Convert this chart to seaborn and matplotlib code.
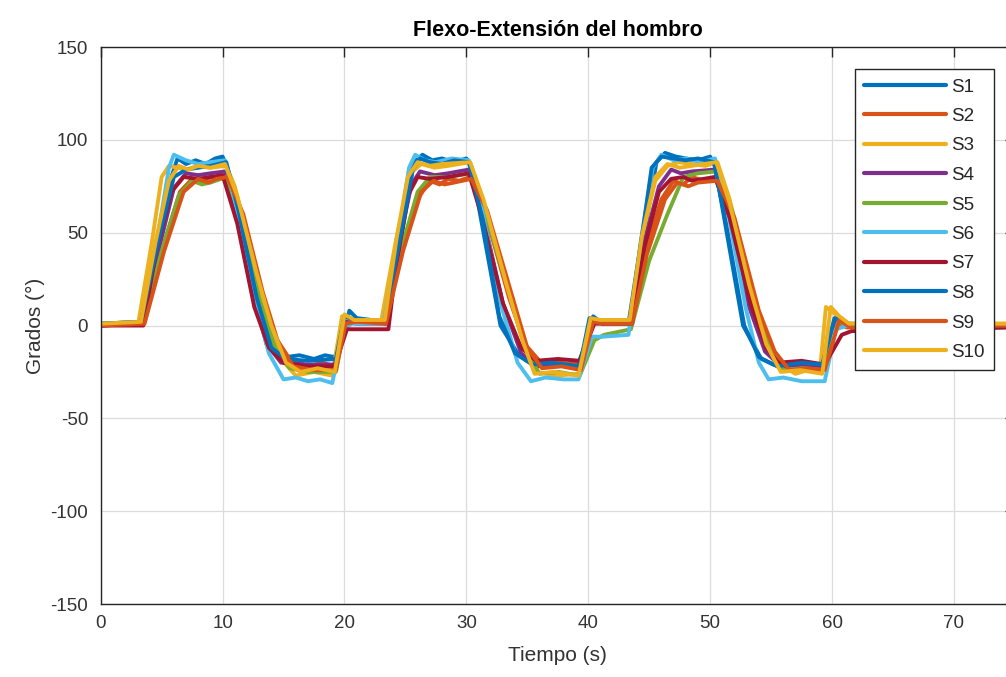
import matplotlib
matplotlib.use("Agg")
import matplotlib.pyplot as plt
import seaborn as sns
import pandas as pd

# Shoulder flexion-extension angle for ten subjects (time in s, angle in degrees)
t_s1 = [0, 1.5, 3.4, 4.6, 5.8, 6.3, 7.0, 7.8, 8.6, 9.4, 10.0, 10.4, 12.6, 14.0, 15.2, 16.3, 17.5, 18.4, 19.2,
        19.9, 20.4, 21.0, 22.2, 23.3, 24.6, 25.7, 26.4, 27.2, 28.0, 29.0, 30.0, 30.4, 32.8, 34.3, 35.5, 37.0,
        38.2, 39.2, 39.9, 40.4, 41.2, 42.3, 43.4, 44.6, 45.6, 46.3, 47.2, 48.0, 49.0, 50.0, 50.4, 52.7, 54.2,
        55.2, 56.0, 57.5, 59.0, 59.6, 60.4, 61.3, 63.0, 75]
v_s1 = [0, 1, 2, 40, 80, 90, 87, 89, 87, 90, 91, 85, 20, -12, -17, -16, -18, -16, -17,
        -5, 8, 4, 3, 2, 45, 88, 92, 89, 90, 88, 90, 86, 0, -16, -20, -19,
        -21, -20, -8, 5, 1, 2, 2, 50, 88, 93, 91, 90, 89, 91, 86, 0, -18,
        -21, -22, -20, -22, -10, 5, 1, 0, 0]

t_s2 = [0, 3.5, 5.0, 6.5, 7.5, 8.3, 9.0, 9.8, 10.3, 11.5, 13.0, 14.2, 15.5, 17.0, 18.2, 19.2, 20.0, 20.6, 23.3,
        24.5, 26.0, 27.0, 27.8, 28.5, 29.4, 30.3, 31.5, 33.5, 34.8, 36.0, 37.6, 39.3, 40.2, 41.0, 43.5,
        44.6, 46.0, 47.0, 47.8, 48.5, 49.5, 50.4, 51.8, 53.6, 55.0, 56.2, 57.8, 59.2, 60.3, 61.2, 75]
v_s2 = [0, 1, 40, 72, 79, 77, 80, 79, 81, 60, 20, -5, -18, -22, -20, -22, 0, 3, 1,
        35, 68, 78, 76, 79, 78, 80, 62, 15, -10, -19, -20, -21, 2, 2, 1,
        38, 68, 78, 76, 80, 78, 80, 55, 10, -12, -22, -21, -23, 2, -1, 0]

t_s3 = [0, 3.1, 4.2, 5.0, 5.6, 7.0, 8.0, 9.0, 10.3, 11.0, 12.5, 13.6, 14.8, 16.0, 17.5, 19.0, 19.8, 20.6, 23.0,
        24.2, 25.4, 26.3, 27.4, 28.5, 29.4, 30.3, 31.5, 33.5, 34.8, 35.8, 37.4, 39.2, 40.2, 41.0, 43.4,
        44.5, 45.5, 46.5, 47.4, 48.5, 49.6, 50.6, 51.6, 53.0, 54.3, 55.5, 57.0, 58.0, 59.0, 59.5, 60.3, 61.2, 75]
v_s3 = [1, 2, 45, 80, 86, 84, 86, 85, 86, 75, 35, 5, -18, -27, -25, -27, 5, 3, 2,
        45, 82, 87, 85, 86, 87, 88, 65, 20, -10, -25, -27, -26, 3, 3, 2,
        50, 78, 86, 88, 87, 86, 88, 68, 30, 0, -20, -26, -24, -25, 10, 6, 1, 1]

t_s4 = [0, 3.4, 4.8, 6.0, 7.0, 8.0, 9.0, 10.2, 11.3, 12.5, 13.6, 14.8, 17.0, 19.2, 20.1, 21.0, 23.4,
        24.5, 25.5, 26.2, 27.4, 28.5, 30.2, 31.4, 33.0, 34.5, 35.8, 37.5, 39.2, 40.3, 41.2, 43.5,
        44.5, 45.8, 46.8, 47.6, 48.5, 50.4, 51.5, 53.2, 54.5, 55.8, 57.5, 59.3, 60.4, 61.3, 75]
v_s4 = [0, 1, 42, 74, 82, 81, 82, 83, 58, 18, -10, -20, -21, -21, 2, 1, 1,
        45, 76, 83, 81, 82, 84, 58, 12, -15, -22, -21, -22, 3, 1, 1,
        42, 75, 84, 82, 83, 84, 62, 10, -14, -22, -21, -23, 3, 0, 0]

t_s5 = [0, 3.5, 5.0, 6.4, 7.5, 8.3, 9.0, 10.3, 11.5, 13.0, 14.3, 15.5, 17.0, 19.3, 20.0, 21.0, 23.3,
        24.6, 26.0, 27.0, 28.5, 30.3, 31.5, 33.5, 34.8, 36.0, 37.6, 39.3, 40.5, 41.3, 43.5,
        45.0, 46.5, 47.8, 49.0, 50.5, 51.8, 53.6, 54.8, 56.0, 57.6, 59.3, 60.5, 61.4, 75]
v_s5 = [1, 2, 40, 70, 78, 76, 77, 80, 58, 15, -12, -23, -25, -25, 0, 2, 2,
        40, 72, 80, 80, 82, 62, 18, -12, -26, -25, -27, -8, -5, -2,
        35, 60, 80, 82, 83, 62, 15, -12, -24, -23, -24, 2, 0, 0]

t_s6 = [0, 3.4, 4.6, 5.6, 6.0, 7.0, 8.0, 9.0, 10.2, 11.2, 12.6, 13.8, 15.0, 16.0, 17.0, 18.0, 19.0, 19.9, 20.6, 23.2,
        24.2, 25.3, 25.8, 26.6, 27.5, 28.8, 30.2, 31.3, 32.9, 34.2, 35.3, 36.5, 38.0, 39.2, 40.3, 41.2, 43.3,
        44.3, 45.3, 46.0, 47.0, 48.0, 49.2, 50.4, 51.5, 52.9, 54.0, 54.8, 56.0, 57.5, 59.4, 60.3, 61.3, 75]
v_s6 = [1, 2, 45, 85, 92, 89, 87, 88, 89, 62, 15, -15, -29, -28, -30, -29, -31, -2, 1, 1,
        40, 85, 92, 89, 88, 90, 89, 62, 10, -20, -30, -28, -29, -29, -6, -6, -5,
        45, 85, 92, 89, 90, 88, 90, 60, 10, -20, -29, -28, -30, -30, -2, 0, 0]

t_s7 = [0, 3.5, 4.6, 5.8, 6.8, 8.0, 9.0, 10.0, 11.2, 12.6, 13.8, 15.0, 17.0, 19.2, 20.2, 21.0, 23.6,
        24.2, 25.2, 26.0, 27.0, 28.5, 30.2, 31.3, 33.0, 34.5, 35.7, 37.5, 39.3, 40.5, 41.3, 43.6,
        44.6, 45.8, 46.8, 47.8, 48.5, 50.4, 51.6, 53.3, 54.6, 55.6, 57.5, 59.4, 60.8, 61.6, 62.5, 75]
v_s7 = [0, 0, 42, 72, 80, 79, 80, 81, 55, 10, -12, -20, -22, -22, -2, -2, -2,
        30, 70, 80, 79, 80, 82, 58, 12, -12, -19, -18, -19, 1, 1, 1,
        42, 72, 79, 80, 78, 80, 58, 12, -12, -20, -19, -21, -5, -3, -3, -1]

t_s8 = [0, 3.3, 4.7, 6.0, 7.0, 8.0, 9.0, 10.3, 11.3, 12.8, 14.0, 15.2, 17.0, 19.3, 20.0, 20.8, 23.3,
        24.5, 25.6, 26.2, 27.0, 28.0, 29.0, 30.2, 31.3, 32.7, 34.0, 35.4, 37.0, 39.3, 40.1, 41.0, 43.3,
        44.4, 45.2, 46.0, 47.0, 48.0, 49.0, 50.3, 51.3, 52.8, 54.0, 55.5, 57.5, 59.2, 60.2, 61.2, 75]
v_s8 = [1, 2, 45, 80, 84, 85, 86, 88, 62, 15, -12, -18, -19, -18, 5, 3, 2,
        45, 84, 90, 88, 87, 89, 88, 58, 5, -15, -21, -20, -22, 4, 2, 1,
        48, 85, 91, 90, 89, 90, 88, 55, 0, -17, -22, -20, -21, 4, 1, 0]

t_s9 = [0, 3.6, 5.2, 6.8, 8.0, 8.8, 9.5, 10.4, 11.7, 13.3, 14.6, 15.8, 17.5, 19.3, 20.1, 21.0, 23.4,
        24.8, 26.3, 27.3, 28.2, 29.0, 30.4, 31.7, 33.8, 35.0, 36.2, 37.8, 39.4, 40.4, 41.3, 43.6,
        44.8, 46.3, 47.3, 48.2, 49.0, 50.6, 52.0, 54.0, 55.3, 56.5, 58.0, 59.4, 60.6, 61.5, 75]
v_s9 = [0, 1, 40, 72, 79, 77, 79, 80, 60, 18, -10, -22, -24, -24, 1, 2, 1,
        40, 72, 78, 76, 77, 79, 62, 15, -12, -23, -22, -24, 2, 1, 1,
        38, 68, 77, 75, 77, 78, 58, 8, -14, -24, -23, -24, 3, -1, 0]

t_s10 = [0, 3.3, 4.5, 5.6, 6.4, 7.2, 8.0, 9.0, 10.2, 11.2, 12.8, 14.0, 15.2, 16.4, 17.8, 19.2, 20.0, 20.8, 23.3,
         24.3, 25.2, 26.0, 27.0, 28.0, 30.3, 31.4, 33.3, 34.6, 35.6, 37.2, 39.2, 40.2, 41.0, 43.4,
         44.4, 45.5, 46.5, 47.5, 48.5, 50.5, 51.6, 53.2, 54.6, 55.8, 57.4, 59.2, 59.9, 60.6, 61.4, 75]
v_s10 = [1, 2, 45, 78, 86, 84, 86, 85, 87, 70, 28, 0, -20, -25, -23, -25, 6, 3, 3,
         48, 80, 88, 86, 87, 88, 68, 22, -8, -26, -25, -27, 4, 3, 3,
         48, 80, 87, 85, 86, 88, 66, 22, -10, -25, -24, -26, 10, 5, 1, 1]

series_names = ["S1", "S2", "S3", "S4", "S5", "S6", "S7", "S8", "S9", "S10"]
series_t = [t_s1, t_s2, t_s3, t_s4, t_s5, t_s6, t_s7, t_s8, t_s9, t_s10]
series_v = [v_s1, v_s2, v_s3, v_s4, v_s5, v_s6, v_s7, v_s8, v_s9, v_s10]

x_ticks = [0, 10, 20, 30, 40, 50, 60, 70]
y_ticks = [-150, -100, -50, 0, 50, 100, 150]

# MATLAB default line color order (repeats after seven)
line_colors = ["#0072BD", "#D95319", "#EDB120", "#7E2F8E", "#77AC30",
               "#4DBEEE", "#A2142F", "#0072BD", "#D95319", "#EDB120"]

sns.set_theme(style="whitegrid")
plt.rcParams["font.family"] = ["Liberation Sans", "DejaVu Sans"]
plt.rcParams["axes.unicode_minus"] = False

fig = plt.figure(figsize=(10.06, 6.77), dpi=100)
ax = fig.add_axes([0.1001, 0.1078, 0.9087, 0.8227])

frames = []
for name, t, v in zip(series_names, series_t, series_v):
    frames.append(pd.DataFrame({"Tiempo": t, "Grados": v, "Serie": name}))
df = pd.concat(frames, ignore_index=True)

sns.lineplot(data=df, x="Tiempo", y="Grados", hue="Serie", hue_order=series_names,
             palette=line_colors, estimator=None, sort=False, linewidth=2.8, ax=ax)

ax.set_xlim(0, 75)
ax.set_ylim(-150, 150)
ax.set_xticks(x_ticks)
ax.set_yticks(y_ticks)

ax.grid(True, color="#dcdcdc", linewidth=0.9)
for side in ["left", "bottom", "top", "right"]:
    ax.spines[side].set_visible(True)
    ax.spines[side].set_color("#262626")
    ax.spines[side].set_linewidth(1.0)

ax.tick_params(axis="both", direction="in", length=7, width=1.0, color="#262626",
               labelcolor="#333333", labelsize=13.5, top=True, right=True)
ax.tick_params(axis="y", pad=9)
ax.tick_params(axis="x", pad=8)

ax.set_xlabel("Tiempo (s)", fontsize=15, color="#333333", labelpad=10)
ax.set_ylabel("Grados (°)", fontsize=15, color="#333333", labelpad=4)
ax.set_title("Flexo-Extensión del hombro", fontsize=15.5, fontweight="bold",
             color="#000000", pad=8)

handles, labels = ax.get_legend_handles_labels()
leg = ax.legend(handles, labels, loc="upper right",
                bbox_to_anchor=(994 / 1006, 1 - 69 / 677), bbox_transform=fig.transFigure,
                fontsize=13.5, frameon=True, fancybox=False, framealpha=1.0,
                edgecolor="#262626", handlelength=4.4, handletextpad=0.25,
                labelspacing=0.66, borderpad=0.5, borderaxespad=0.0)
leg.get_frame().set_linewidth(1.0)
for line in leg.get_lines():
    line.set_linewidth(3.0)
for text in leg.get_texts():
    text.set_color("#262626")

fig.savefig("out.png", dpi=100)
